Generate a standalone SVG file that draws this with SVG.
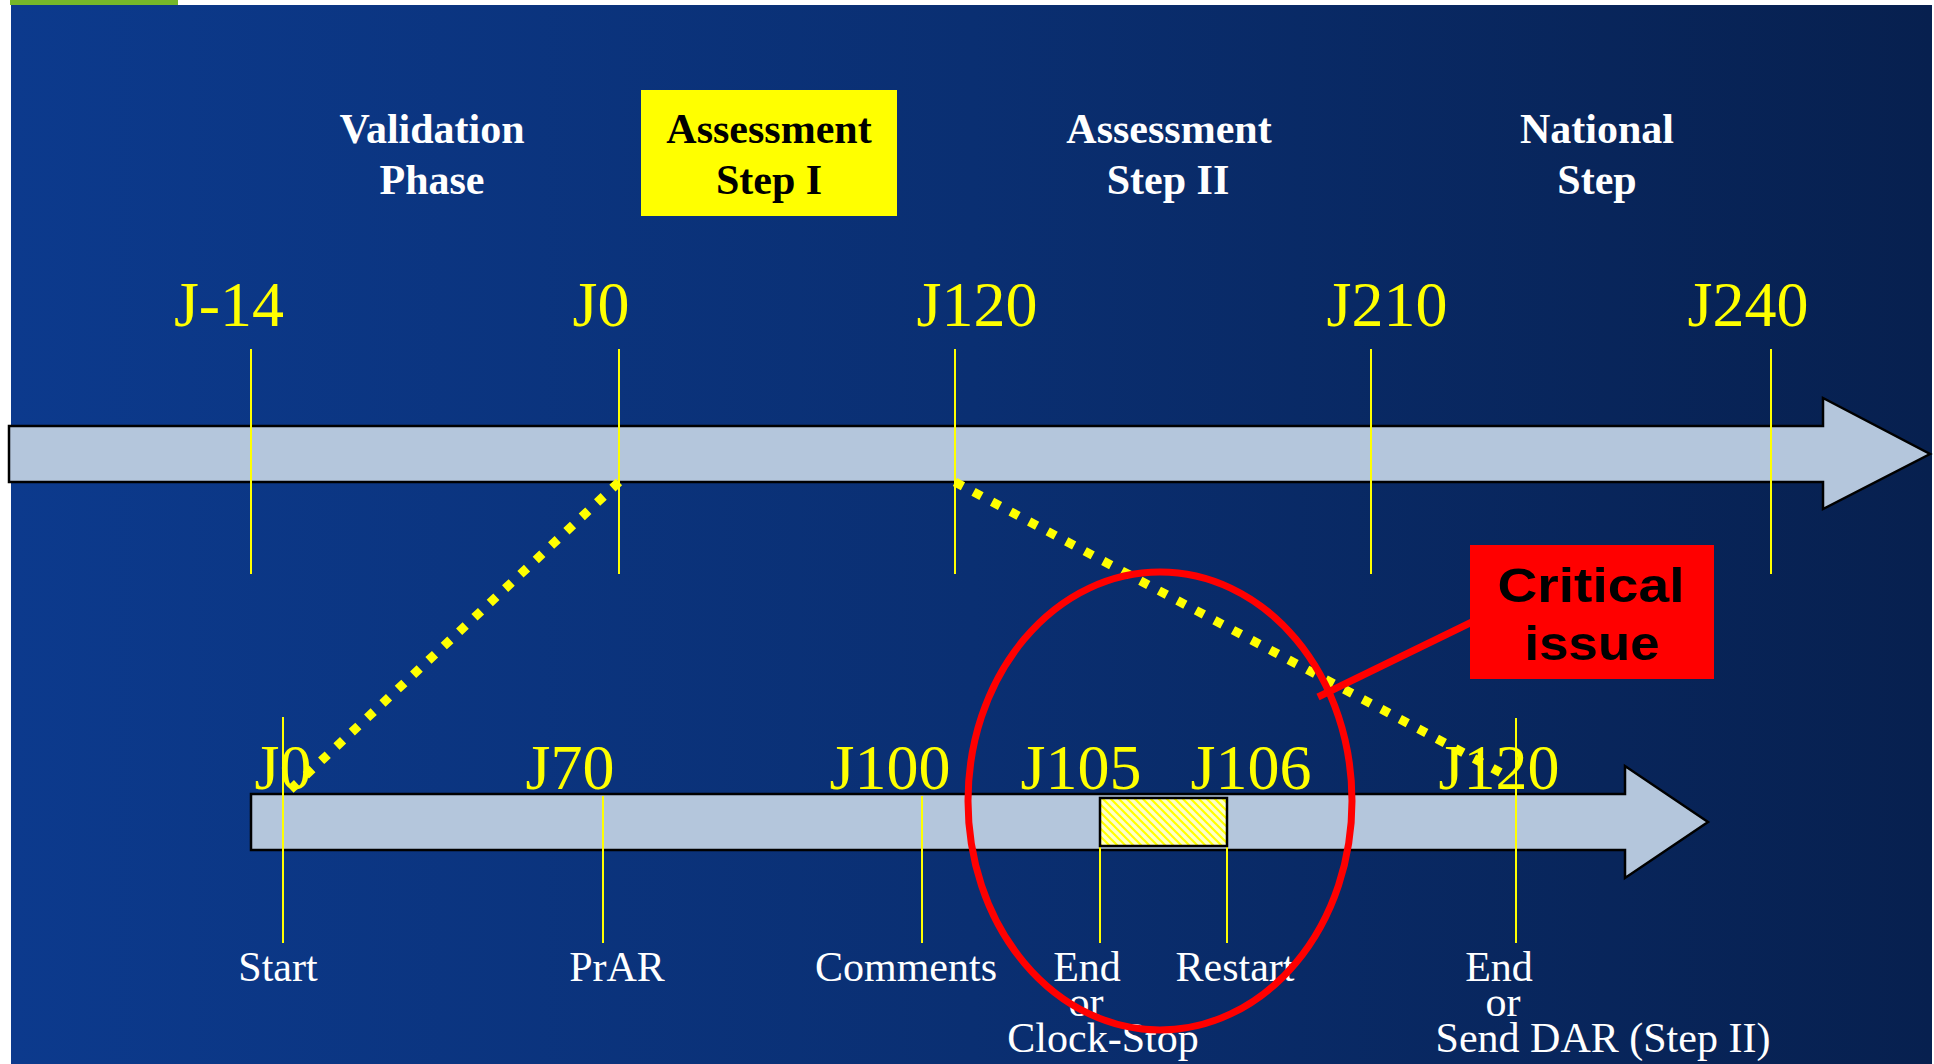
<svg xmlns="http://www.w3.org/2000/svg" width="1934" height="1064" viewBox="0 0 1934 1064">
<defs>
<linearGradient id="bg" x1="0" y1="0" x2="1" y2="0">
<stop offset="0" stop-color="#0c3a8d"/>
<stop offset="0.5" stop-color="#0a2f72"/>
<stop offset="1" stop-color="#07204f"/>
</linearGradient>
<pattern id="hatch" width="8" height="8" patternUnits="userSpaceOnUse">
<rect width="8" height="8" fill="#ffffc8"/>
<path d="M0,0 L8,8 M-4,4 L4,12 M4,-4 L12,4" stroke="#ffff00" stroke-width="2.2"/>
</pattern>
<style>
.arrow{fill:#b4c6dc;stroke:#000;stroke-width:2.5}
.tick{stroke:#ffff00;stroke-width:2}
.jl{font-family:"Liberation Serif",serif;font-size:64px;fill:#ffff00;text-anchor:middle}
.hd{font-family:"Liberation Serif",serif;font-size:42px;font-weight:bold;fill:#fff;text-anchor:middle}
.bl{font-family:"Liberation Serif",serif;font-size:42px;fill:#fff;text-anchor:middle}
.dot{stroke:#ffff00;stroke-width:9;stroke-dasharray:9 12;fill:none}
.crit{font-family:"Liberation Sans",Arial,sans-serif;font-size:48px;font-weight:bold;fill:#000;text-anchor:middle}
</style>
</defs>
<rect x="0" y="0" width="1934" height="1064" fill="#fff"/>
<rect x="11" y="5" width="1921" height="1059" fill="url(#bg)"/>
<rect x="10" y="0" width="168" height="5" fill="#76b82a"/>

<g id="top-arrow"><path class="arrow" d="M9,426 H1823 V398 L1930,454 L1823,509 V482 H9 Z"/></g>
<g id="bottom-arrow"><path class="arrow" d="M251,794 H1625 V766 L1708,822 L1625,878 V850 H251 Z"/></g>

<g id="ticks">
<line class="tick" x1="251" y1="349" x2="251" y2="574"/>
<line class="tick" x1="619" y1="349" x2="619" y2="574"/>
<line class="tick" x1="955" y1="349" x2="955" y2="574"/>
<line class="tick" x1="1371" y1="349" x2="1371" y2="574"/>
<line class="tick" x1="1771" y1="349" x2="1771" y2="574"/>
<line class="tick" x1="283" y1="717" x2="283" y2="943"/>
<line class="tick" x1="603" y1="796" x2="603" y2="943"/>
<line class="tick" x1="922" y1="796" x2="922" y2="943"/>
<line class="tick" x1="1100" y1="846" x2="1100" y2="943"/>
<line class="tick" x1="1227" y1="846" x2="1227" y2="943"/>
<line class="tick" x1="1516" y1="718" x2="1516" y2="943"/>
</g>

<g id="clock-stop-box"><rect x="1100" y="798" width="127" height="48" fill="url(#hatch)" stroke="#000" stroke-width="2.5"/></g>

<g id="headers">
<text class="hd" x="432" y="143">Validation</text>
<text class="hd" x="432" y="194">Phase</text>
<g id="step1">
<rect x="641" y="90" width="256" height="126" fill="#ffff00"/>
<text class="hd" x="769" y="143" fill="#000" style="fill:#000">Assessment</text>
<text class="hd" x="769" y="194" style="fill:#000">Step I</text>
</g>
<text class="hd" x="1169" y="143">Assessment</text>
<text class="hd" x="1168" y="194">Step II</text>
<text class="hd" x="1597" y="143">National</text>
<text class="hd" x="1597" y="194">Step</text>
</g>

<g id="top-labels">
<text class="jl" x="229" y="326">J-14</text>
<text class="jl" x="601" y="326">J0</text>
<text class="jl" x="977" y="326">J120</text>
<text class="jl" x="1387" y="326">J210</text>
<text class="jl" x="1748" y="326">J240</text>
</g>

<g id="bottom-labels">
<text class="jl" x="283" y="789">J0</text>
<text class="jl" x="570" y="789">J70</text>
<text class="jl" x="890" y="789">J100</text>
<text class="jl" x="1081" y="789">J105</text>
<text class="jl" x="1251" y="789">J106</text>
<text class="jl" x="1499" y="789">J120</text>
</g>

<g id="event-labels">
<text class="bl" x="278" y="981">Start</text>
<text class="bl" x="617" y="981">PrAR</text>
<text class="bl" x="906" y="981">Comments</text>
<text class="bl" x="1087" y="981">End</text>
<text class="bl" x="1086" y="1016">or</text>
<text class="bl" x="1103" y="1052">Clock-Stop</text>
<text class="bl" x="1235" y="981">Restart</text>
<text class="bl" x="1499" y="981">End</text>
<text class="bl" x="1503" y="1016">or</text>
<text class="bl" x="1603" y="1052">Send DAR (Step II)</text>
</g>

<g id="connectors">
<line class="dot" x1="619" y1="482" x2="290" y2="790"/>
<line class="dot" x1="955" y1="482" x2="1505" y2="775"/>
<ellipse cx="1160" cy="801" rx="192" ry="229" fill="none" stroke="#ff0000" stroke-width="7"/>
<line x1="1472" y1="622" x2="1318" y2="697" stroke="#ff0000" stroke-width="7"/>
</g>

<g id="critical-issue">
<rect x="1470" y="545" width="244" height="134" fill="#ff0000"/>
<text class="crit" x="1591" y="602" textLength="187" lengthAdjust="spacingAndGlyphs">Critical</text>
<text class="crit" x="1592" y="660" textLength="135" lengthAdjust="spacingAndGlyphs">issue</text>
</g>
</svg>
